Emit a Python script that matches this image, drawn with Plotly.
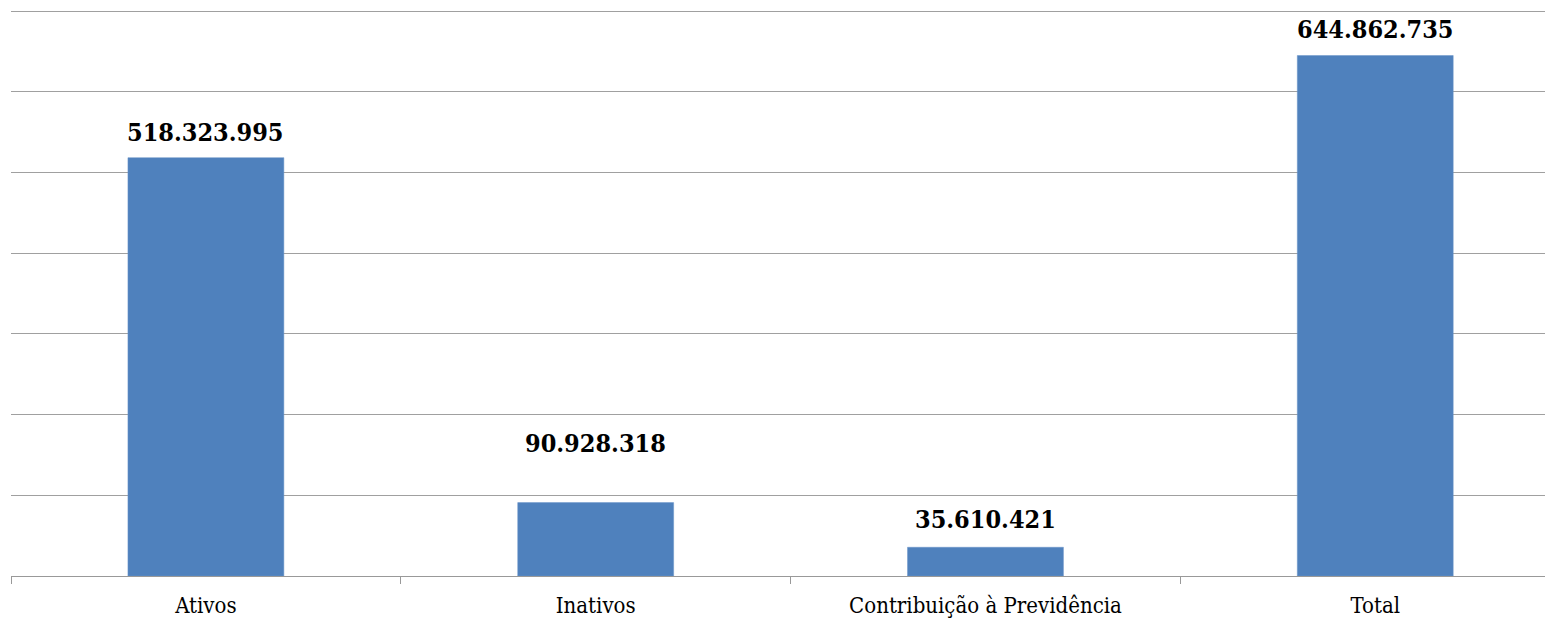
import plotly.graph_objects as go

categories = ["Ativos", "Inativos", "Contribuição à Previdência", "Total"]
values = [518323995, 90928318, 35610421, 644862735]
value_labels = ["518.323.995", "90.928.318", "35.610.421", "644.862.735"]
y_ticks = [0, 100000000, 200000000, 300000000, 400000000, 500000000, 600000000, 700000000]

label_shift = [9, 43, 11, 10]

fig = go.Figure()
fig.add_trace(go.Bar(
    x=categories, y=values, width=0.4,
    marker=dict(color="#4F81BD", line=dict(color="#6a95c8", width=0.5)),
    hoverinfo="skip",
))

for c, v, t, s in zip(categories, values, value_labels, label_shift):
    fig.add_annotation(x=c, y=v, text="<b>%s</b>" % t, showarrow=False,
                       yanchor="bottom", yshift=s,
                       font=dict(family="DejaVu Serif Condensed, DejaVu Serif", size=25, color="#000000"))

fig.update_layout(
    width=1545, height=612,
    margin=dict(l=3, r=0, t=1, b=43.5),
    paper_bgcolor="white", plot_bgcolor="white",
    showlegend=False,
    font=dict(family="DejaVu Serif Condensed, DejaVu Serif", color="#000000"),
)
fig.update_xaxes(
    range=[-0.5, 3.456], tickson="boundaries", ticks="outside", ticklen=7,
    tickcolor="#999999", tickwidth=1, showline=True, linecolor="#999999", linewidth=1,
    showgrid=False, tickfont=dict(size=22, color="#000000"), ticklabelstandoff=10,
)
fig.update_yaxes(
    range=[0, 702500000], tickvals=y_ticks, showticklabels=False,
    showgrid=True, gridcolor="#a0a0a0", gridwidth=1, zeroline=False, showline=False,
)

fig.write_html("out.html")
